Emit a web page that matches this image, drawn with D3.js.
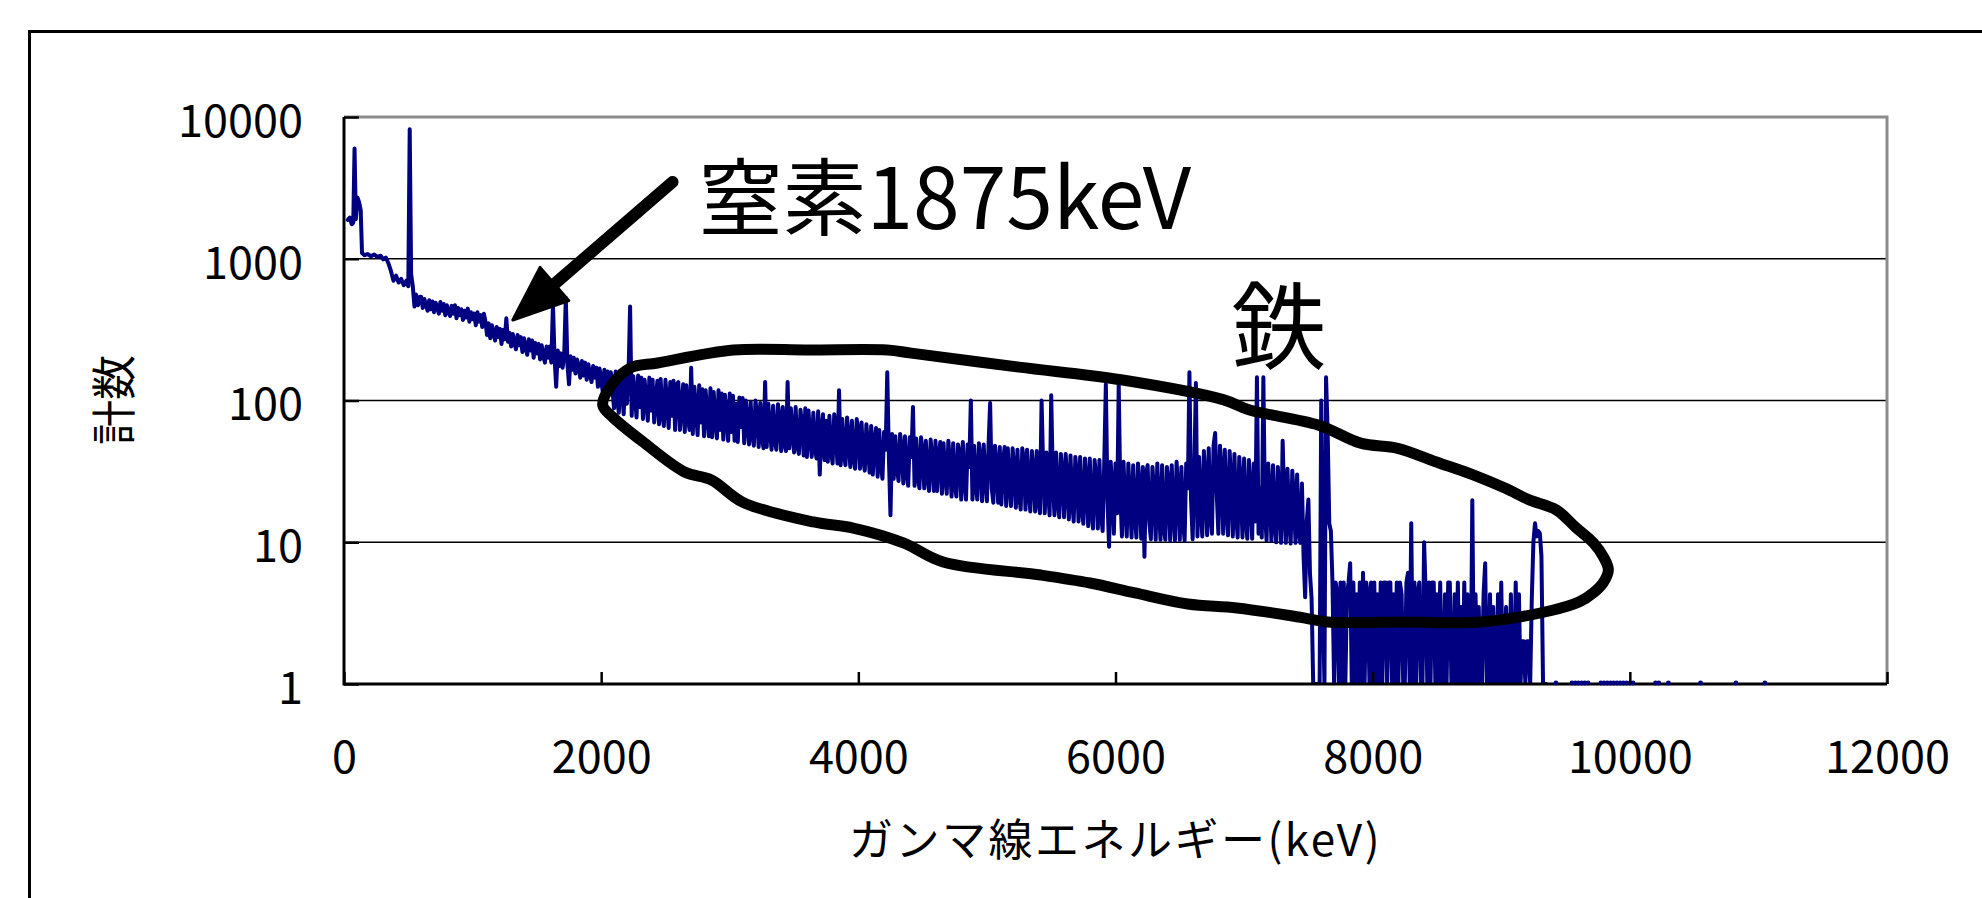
<!DOCTYPE html>
<html>
<head>
<meta charset="utf-8">
<script src="https://cdn.jsdelivr.net/npm/d3@7"></script>
<style>
  body { margin: 0; background: #fff; }
  svg { display: block; }
  text { font-family: "Noto Sans CJK JP", "Noto Sans", sans-serif; fill: #000; }
</style>
</head>
<body>
<div id="chart"></div>
<script>
// low-energy part of the spectrum, read point by point (keV, counts)
const lowKeV = [30, 45, 60, 72, 82, 92, 105, 118, 130, 140, 160, 185, 210, 235, 260, 285, 305, 325, 345, 365,
    385, 405, 425, 445, 465, 485, 500, 511, 522, 535, 548, 560, 575, 590];
const lowCounts = [1880, 1950, 1750, 1800, 6000, 1900, 2700, 2500, 2200, 1100, 1060, 1080, 1040, 1070, 1030, 1050, 990, 1020, 930, 820,
    700, 760, 680, 720, 650, 700, 640, 8200, 780, 640, 460, 560, 470, 540];

// rest of the spectrum: one block per 500 keV starting at 600 keV, one value every 12.5 keV
const blockStartKeV = 600;
const blockWidthKeV = 500;
const channelKeV = 12.5;
const bandBlocks = [
    [540, 450, 520, 470, 430, 510, 440, 500, 420, 490, 455, 410, 495, 430, 480, 400, 470, 420, 395, 465,
     410, 470, 380, 450, 400, 440, 370, 430, 385, 445, 360, 420, 375, 410, 340, 420, 360, 400, 330, 410],
    [360, 290, 350, 275, 340, 300, 265, 330, 280, 320, 250, 315, 270, 380, 260, 300, 240, 295, 255, 230,
     290, 245, 280, 220, 275, 235, 210, 270, 225, 265, 200, 255, 215, 250, 195, 245, 205, 185, 240, 200],
    [240, 185, 480, 200, 125, 225, 175, 215, 170, 210, 530, 180, 130, 205, 165, 200, 155, 195, 170, 145,
     190, 150, 185, 140, 180, 155, 135, 175, 145, 170, 125, 168, 140, 115, 165, 130, 160, 110, 158, 120],
    [88, 160, 100, 82, 155, 120, 80, 150, 95, 152, 460, 78, 148, 110, 76, 150, 90, 145, 74, 140,
     105, 72, 145, 85, 140, 70, 100, 138, 68, 142, 82, 66, 140, 95, 64, 135, 78, 138, 62, 130],
    [135, 62, 90, 130, 60, 128, 75, 62, 170, 58, 125, 85, 57, 128, 70, 120, 56, 118, 80, 56,
     122, 55, 115, 72, 54, 118, 62, 112, 53, 110, 78, 52, 112, 60, 108, 52, 95, 51, 105, 65],
    [104, 50, 100, 70, 49, 98, 58, 48, 100, 80, 47, 96, 55, 46, 135, 47, 95, 64, 45, 92,
     52, 45, 94, 72, 44, 90, 50, 44, 135, 46, 88, 60, 43, 90, 48, 42, 86, 66, 41, 88],
    [40, 85, 55, 40, 82, 46, 39, 84, 30, 62, 80, 38, 72, 37, 78, 44, 36, 80, 58, 36,
     118, 35, 74, 42, 35, 76, 52, 34, 72, 40, 33, 74, 60, 33, 70, 38, 32, 68, 48, 31],
    [66, 30, 50, 64, 29, 62, 36, 28, 60, 45, 158, 40, 15.5, 58, 28, 56, 34, 27, 58, 44,
     26, 56, 32, 25, 55, 40, 90, 25, 54, 30, 24, 55, 42, 24, 52, 30, 23, 53, 38, 23],
    [52, 23, 40, 51, 22, 50, 30, 22, 52, 36, 21, 50, 26, 21, 49, 42, 20, 51, 28, 20,
     49, 34, 100, 20, 48, 26, 20, 50, 38, 19.5, 49, 28, 19.5, 48, 96, 24, 19, 48, 34, 19],
    [47, 18.5, 36, 47, 18, 46, 26, 18, 46, 32, 17.5, 45, 22, 17, 46, 38, 17, 45, 24, 16.5,
     44, 30, 16.5, 44, 20, 16, 100, 34, 16, 43, 24, 15.5, 109, 28, 15.5, 43, 20, 15, 42, 30],
    [15, 42, 26, 14.5, 41, 20, 14, 40, 30, 14, 40, 18, 13.5, 39, 26, 13, 39, 17, 12.5, 38,
     28, 12.5, 38, 16, 12, 37, 130, 20, 9.3, 37, 24, 11.5, 36, 16, 130, 22, 11, 37, 18, 11],
    [36, 20, 10.8, 35, 16, 10.8, 36, 24, 10.6, 34, 7.9, 30, 35, 14, 10.5, 34, 22, 10.4, 36, 18,
     10.4, 35, 13, 10.4, 34, 26, 10.3, 35, 16, 10.3, 37, 22, 10.4, 34, 14, 10.3, 36, 24, 158, 20],
    [10.5, 30, 133, 11, 40, 18, 11, 44, 26, 11.2, 46, 16, 11.5, 48, 59, 22, 11.5, 48, 30, 11.5,
     45, 18, 11.2, 44, 26, 11, 42, 16, 10.8, 40, 24, 10.8, 39, 15, 10.6, 38, 22, 10.6, 36, 14],
    [146, 11.5, 24, 10.8, 146, 16, 10.3, 36, 22, 10.2, 35, 14, 10, 34, 20, 9.9, 52, 18, 9.9, 33,
     14, 9.8, 32, 20, 9.9, 30, 12, 9.9, 26, 8, 4.1, 14, 20, 6, 4, 0, 0, 0, 0, 0],
    [100, 4, 0, 146, 60, 13.6, 12, 5.2, 0, 5.2, 4.3, 0, 5.2, 0, 5.2, 0, 4.3, 5.2, 7.1, 0,
     5.2, 0, 4.3, 0, 5.2, 0, 6.1, 0, 5.2, 4.3, 0, 5.2, 0, 5.2, 0, 4.3, 0, 5.2, 0, 5.2],
    [5.2, 0, 5.2, 5.2, 0, 4.3, 0, 5.2, 0, 5.2, 4.3, 0, 0, 5.2, 6.1, 0, 13.6, 0, 5.2, 0,
     4.3, 5.2, 0, 0, 10, 4.3, 0, 5.2, 0, 5.2, 5.2, 0, 4.3, 0, 5.2, 0, 0, 4.3, 0, 5.2],
    [5.2, 0, 0, 4.3, 0, 5.2, 0, 3.5, 0, 5.2, 0, 4.3, 0, 0, 19.8, 0, 4.3, 0, 3.5, 0,
     0, 4.3, 7.1, 0, 0, 4.3, 0, 3.5, 0, 0, 4.3, 0, 5.2, 0, 0, 3.5, 0, 0, 4.3, 0],
    [0, 5.2, 0, 4.3, 0, 2, 2, 0, 2, 2, 0, 4, 10, 13.6, 11, 12, 11.6, 8, 0, 0, 0]
];

// high-energy tail: single counts every 25 keV from 9375 keV
const tailStartKeV = 9375;
const tailStepKeV = 25;
const tailCounts = [
    0, 0, 1, 0, 0, 0, 0, 1, 1, 1,
    1, 1, 1, 0, 0, 0, 1, 1, 1, 1,
    1, 1, 1, 1, 1, 1, 1, 0, 0, 0,
    0, 0, 0, 1, 1, 0, 0, 1, 0, 0,
    0, 0, 0, 0, 0, 0, 0, 1, 0, 0,
    0, 0, 0, 0, 0, 0, 0, 0, 1, 0,
    0, 0, 0, 0, 0, 0, 0, 1
];

const xTicks = [0, 2000, 4000, 6000, 8000, 10000, 12000];
const yTicks = [1, 10, 100, 1000, 10000];

// hand drawn loop around the iron region (keV, counts)
const loopKeV = [2012, 2082, 2229, 2439, 3029, 3620, 4225, 4412, 5250, 6043, 6843, 7037, 7581, 7907, 8194, 8489,
    8777, 9033, 9212, 9429, 9577, 9717, 9794, 9833, 9794, 9717, 9608, 9390, 8847, 8250, 7650, 7425,
    6944, 6563, 6151, 5802, 5421, 4660, 4350, 3961, 3650, 3099, 2858, 2649, 2338, 2089];
const loopCounts = [93, 129, 170, 184, 227, 227, 227, 216, 172, 140, 101, 86, 67, 50, 46, 37,
    30, 24, 20, 16.9, 12.8, 9.9, 7.9, 6.4, 5.2, 4.4, 3.8, 3.3, 2.74, 2.74, 2.74, 2.97,
    3.44, 3.67, 4.39, 5.16, 5.87, 7.26, 9.9, 12.6, 13.9, 19.2, 27.5, 31.3, 50, 76.5];

// arrow: tail then tip
const arrowKeV = [2555, 1313];
const arrowCounts = [3478, 370];

const W = 1982, H = 898;
const plot = { left: 344, top: 117, right: 1887, bottom: 684 };

const svg = d3.select("#chart").append("svg")
    .attr("width", W)
    .attr("height", H);

const x = d3.scaleLinear().domain([0, 12000]).range([plot.left, plot.right]);
const y = d3.scaleLog().domain([1, 10000]).range([plot.bottom, plot.top]);

// chart area frame (runs off the right and bottom)
svg.append("rect")
    .attr("x", 29.5).attr("y", 31.5)
    .attr("width", 2200).attr("height", 1200)
    .attr("fill", "none")
    .attr("stroke", "#000")
    .attr("stroke-width", 3);

// gridlines
svg.append("g")
    .selectAll("line")
    .data(yTicks.filter(d => d > 1 && d < 10000))
    .join("line")
    .attr("x1", plot.left).attr("x2", plot.right)
    .attr("y1", d => y(d)).attr("y2", d => y(d))
    .attr("stroke", "#000")
    .attr("stroke-width", 1.5);

// plot area top and right border (grey)
svg.append("path")
    .attr("d", `M${plot.left},${plot.top}H${plot.right}V${plot.bottom}`)
    .attr("fill", "none")
    .attr("stroke", "#8c8c8c")
    .attr("stroke-width", 3);

svg.append("clipPath").attr("id", "plot-clip")
    .append("rect")
    .attr("x", plot.left).attr("y", plot.top - 5)
    .attr("width", plot.right - plot.left).attr("height", plot.bottom - plot.top + 5);

const spectrum = lowKeV.map((e, i) => ({ e, c: lowCounts[i] }));
bandBlocks.forEach((block, k) => {
    block.forEach((c, m) => {
        spectrum.push({ e: blockStartKeV + k * blockWidthKeV + m * channelKeV, c });
    });
});

const line = d3.line()
    .x(d => x(d.e))
    .y(d => y(Math.max(d.c, 1)));

svg.append("path")
    .datum(spectrum)
    .attr("clip-path", "url(#plot-clip)")
    .attr("d", line)
    .attr("fill", "none")
    .attr("stroke", "#000080")
    .attr("stroke-width", 4)
    .attr("stroke-linejoin", "round")
    .attr("stroke-linecap", "round");

// axes lines
svg.append("path")
    .attr("d", `M${plot.left},${plot.top}V${plot.bottom}H${plot.right}`)
    .attr("fill", "none")
    .attr("stroke", "#000")
    .attr("stroke-width", 3);

const tail = tailCounts.map((c, i) => ({ e: tailStartKeV + i * tailStepKeV, c }));

svg.append("g")
    .selectAll("circle")
    .data(tail.filter(d => d.c > 0))
    .join("circle")
    .attr("cx", d => x(d.e))
    .attr("cy", d => y(d.c) - 1)
    .attr("r", 2.4)
    .attr("fill", "#000080");

// y axis
const yAxis = svg.append("g")
    .attr("transform", `translate(${plot.left},0)`)
    .call(d3.axisLeft(y).tickValues(yTicks).tickFormat(d3.format("d"))
        .tickSizeInner(-15).tickSizeOuter(0).tickPadding(41));
yAxis.select(".domain").remove();
yAxis.selectAll(".tick line").attr("stroke", "#000").attr("stroke-width", 2.5);
yAxis.selectAll(".tick text")
    .attr("dy", "0.43em")
    .style("font-size", "45px")
    .style("font-family", "'Noto Sans CJK JP', sans-serif")
    .attr("fill", "#000");

// x axis
const xAxis = svg.append("g")
    .attr("transform", `translate(0,${plot.bottom})`)
    .call(d3.axisBottom(x).tickValues(xTicks).tickFormat(d3.format("d"))
        .tickSizeInner(-12).tickSizeOuter(0).tickPadding(57));
xAxis.select(".domain").remove();
xAxis.selectAll(".tick line").attr("stroke", "#000").attr("stroke-width", 2.5);
xAxis.selectAll(".tick text")
    .style("font-size", "45px")
    .style("font-family", "'Noto Sans CJK JP', sans-serif")
    .attr("fill", "#000");

// axis titles
svg.append("text")
    .attr("transform", "translate(131,400) rotate(-90)")
    .attr("text-anchor", "middle")
    .style("font-size", "45px")
    .text("計数");

svg.append("text")
    .attr("x", (plot.left + plot.right) / 2)
    .attr("y", 856)
    .attr("text-anchor", "middle")
    .style("font-size", "44px")
    .style("letter-spacing", "2.5px")
    .text("ガンマ線エネルギー(keV)");

// hand drawn loop
svg.append("path")
    .datum(loopKeV.map((e, i) => [x(e), y(loopCounts[i])]))
    .attr("d", d3.line().curve(d3.curveCatmullRomClosed.alpha(0.5)))
    .attr("fill", "none")
    .attr("stroke", "#000")
    .attr("stroke-width", 11)
    .attr("stroke-linejoin", "round");

// arrow
const tailPt = [x(arrowKeV[0]), y(arrowCounts[0])];
const tipPt = [x(arrowKeV[1]), y(arrowCounts[1])];
const dx = tipPt[0] - tailPt[0], dy = tipPt[1] - tailPt[1];
const len = Math.hypot(dx, dy);
const ux = dx / len, uy = dy / len;
const headLen = 55, headHalf = 22;
const base = [tipPt[0] - headLen * ux, tipPt[1] - headLen * uy];

svg.append("line")
    .attr("x1", tailPt[0]).attr("y1", tailPt[1])
    .attr("x2", base[0] + 4 * ux).attr("y2", base[1] + 4 * uy)
    .attr("stroke", "#000")
    .attr("stroke-width", 12)
    .attr("stroke-linecap", "round");

svg.append("path")
    .attr("d", `M${tipPt[0]},${tipPt[1]}L${base[0] - headHalf * uy},${base[1] + headHalf * ux}L${base[0] + headHalf * uy},${base[1] - headHalf * ux}Z`)
    .attr("fill", "#000")
    .attr("stroke", "#000")
    .attr("stroke-width", 3)
    .attr("stroke-linejoin", "round");

// annotation texts
svg.append("text")
    .attr("x", x(2757))
    .attr("y", y(1622))
    .style("font-size", "84px")
    .text("窒素1875keV");

svg.append("text")
    .attr("x", x(7270))
    .attr("y", y(187))
    .attr("text-anchor", "middle")
    .style("font-size", "95px")
    .text("鉄");
</script>
</body>
</html>
